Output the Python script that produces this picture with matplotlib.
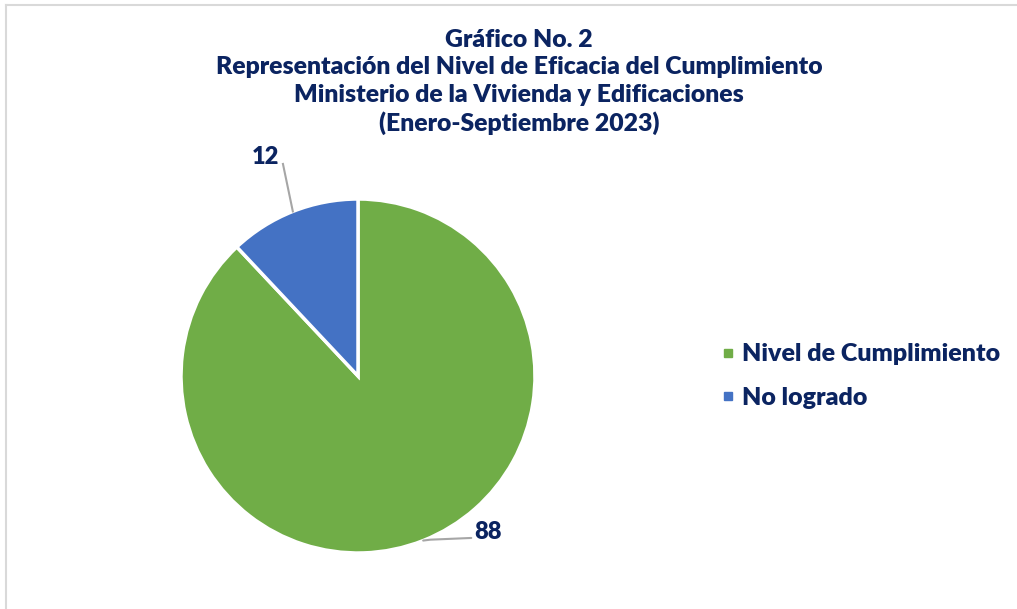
import numpy as np
import matplotlib
matplotlib.use("Agg")
import matplotlib.pyplot as plt
from matplotlib.lines import Line2D

# data
categories = ["Nivel de Cumplimiento", "No logrado"]
values = [88, 12]
colors = ["#70AD47", "#4472C4"]
navy = "#0B2461"

plt.rcParams['font.family'] = ['Lato', 'DejaVu Sans']

W, H = 1017, 609
fig = plt.figure(figsize=(W / 100, H / 100), dpi=100)
fig.patch.set_facecolor("white")

# light frame (top and left edge)
fig.add_artist(Line2D([6 / W, 1], [1 - 5 / H, 1 - 5 / H], color="#D9D9D9", lw=1.5))
fig.add_artist(Line2D([6 / W, 6 / W], [0, 1 - 5 / H], color="#D9D9D9", lw=1.5))

# pie axes: one data unit = 177 px, center at (358, 376) px from top-left
r = 177
ax = fig.add_axes([(358 - 1.6 * r) / W, (H - 376 - 1.3 * r) / H, 3.2 * r / W, 2.9 * r / H])
wedges, _ = ax.pie(values, colors=colors, startangle=90, counterclock=False,
                   wedgeprops=dict(edgecolor="white", linewidth=2.5))
ax.set_xlim(-1.6, 1.6)
ax.set_ylim(-1.3, 1.6)
ax.set_aspect("equal")
ax.axis("off")

# data labels with leader lines
lbl_style = dict(fontsize=17, fontweight="heavy", color=navy)
for w, v in zip(wedges, values):
    ang = np.deg2rad((w.theta1 + w.theta2) / 2)
    ex, ey = np.cos(ang), np.sin(ang)
    if ex > 0:
        # lower right label
        ax.plot([ex, ex + 0.04, 0.64], [ey, ey + 0.005, -0.915], color="#A6A6A6", lw=1.5,
                solid_capstyle="round")
        ax.text(0.735, -0.88, str(v), ha="center", va="center", **lbl_style)
    else:
        ax.plot([ex, -0.424], [ey, 1.198], color="#A6A6A6", lw=1.5)
        ax.text(-0.525, 1.24, str(v), ha="center", va="center", **lbl_style)

# title
title = ("Gráfico No. 2\n"
         "Representación del Nivel de Eficacia del Cumplimiento\n"
         "Ministerio de la Vivienda y Edificaciones\n"
         "(Enero-Septiembre 2023)")
fig.text(519 / W, 1 - 29 / H, title, ha="center", va="top", fontsize=17.8,
         fontweight="heavy", color=navy, linespacing=1.3)

# legend
handles = [Line2D([], [], marker="s", linestyle="none", markersize=6,
                  markerfacecolor=c, markeredgecolor=c) for c in colors]
leg = fig.legend(handles, categories, loc="center left",
                 bbox_to_anchor=(698 / W, (H - 376) / H), frameon=False,
                 handlelength=0.6, handletextpad=0.25, labelspacing=0.85,
                 prop=dict(size=18, weight="heavy"))
for t in leg.get_texts():
    t.set_color(navy)

fig.savefig("out.png", dpi=100, facecolor="white")
